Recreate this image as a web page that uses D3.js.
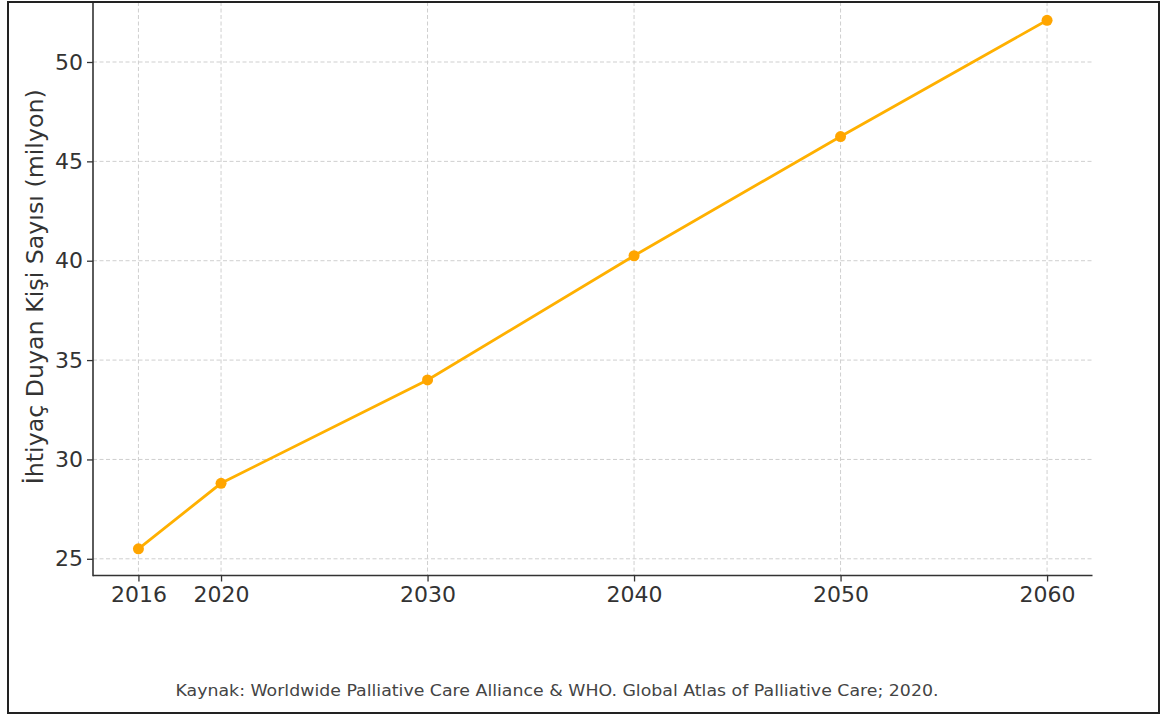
<!DOCTYPE html>
<html><head><meta charset="utf-8">
<script src="https://cdn.jsdelivr.net/npm/d3@7"></script>
<style>html,body{margin:0;padding:0;background:#fff;}svg{display:block;}</style>
</head><body>
<svg id="c" width="1162" height="716"></svg>
<script>
const years = [2016, 2020, 2030, 2040, 2050, 2060];
const values = [25.5, 28.8, 34.0, 40.25, 46.25, 52.1];
const yTicks = [25, 30, 35, 40, 45, 50];
const yLabel = "İhtiyaç Duyan Kişi Sayısı (milyon)";
const caption = "Kaynak: Worldwide Palliative Care Alliance & WHO. Global Atlas of Palliative Care; 2020.";

const svg = d3.select("#c");
const L = 93, R = 1092.5, B = 575.5, T = 2;
const x = d3.scaleLinear().domain([2013.8, 2062.2]).range([L, R]);
const y = d3.scaleLinear().domain([25, 50]).range([558.8, 62]);
const font = "DejaVu Sans, sans-serif";

// grid
const g = svg.append("g");
g.selectAll("line.vg").data(years).join("line")
  .attr("x1", d => x(d)).attr("x2", d => x(d)).attr("y1", T).attr("y2", B)
  .attr("stroke", "#cfcfcf").attr("stroke-width", 1).attr("stroke-dasharray", "4,2.5");
g.selectAll("line.hg").data(yTicks).join("line")
  .attr("x1", L).attr("x2", R).attr("y1", d => y(d)).attr("y2", d => y(d))
  .attr("stroke", "#cfcfcf").attr("stroke-width", 1).attr("stroke-dasharray", "4,2.5");

// axes
const xAxis = d3.axisBottom(x).tickValues(years).tickFormat(d3.format("d")).tickSize(6).tickSizeOuter(0).tickPadding(5);
const yAxis = d3.axisLeft(y).tickValues(yTicks).tickSize(6).tickSizeOuter(0).tickPadding(4);
const gx = svg.append("g").attr("transform", `translate(0,${B})`).call(xAxis);
const gy = svg.append("g").attr("transform", `translate(${L},0)`).call(yAxis);
[gx, gy].forEach(a => {
  a.select(".domain").remove();
  a.selectAll(".tick line").attr("stroke", "#333").attr("stroke-width", 1.3);
  a.selectAll(".tick text").attr("fill", "#333").style("font-family", font).style("font-size", "22px");
});
svg.append("line").attr("x1", L).attr("x2", L).attr("y1", T).attr("y2", B + 0.7)
  .attr("stroke", "#333").attr("stroke-width", 1.6);
svg.append("line").attr("x1", L).attr("x2", R).attr("y1", B).attr("y2", B)
  .attr("stroke", "#333").attr("stroke-width", 1.6);

// line and markers
const line = d3.line().x((d, i) => x(years[i])).y(d => y(d));
svg.append("path").datum(values).attr("d", line)
  .attr("fill", "none").attr("stroke", "#FFB000").attr("stroke-width", 2.8);
svg.selectAll("circle.pt").data(values).join("circle")
  .attr("cx", (d, i) => x(years[i])).attr("cy", d => y(d)).attr("r", 5.5)
  .attr("fill", "#FFA500");

// y label
svg.append("text").attr("transform", `translate(43,${(T + B) / 2 - 2}) rotate(-90)`)
  .attr("text-anchor", "middle").attr("fill", "#333")
  .style("font-family", font).style("font-size", "23px")
  .attr("textLength", 395).attr("lengthAdjust", "spacingAndGlyphs").text(yLabel);

// caption
svg.append("text").attr("x", 557).attr("y", 696).attr("text-anchor", "middle")
  .attr("fill", "#444").style("font-family", font).style("font-size", "16.5px")
  .attr("textLength", 763).attr("lengthAdjust", "spacingAndGlyphs").text(caption);

// frame
svg.append("rect").attr("x", 8).attr("y", 2).attr("width", 1151).attr("height", 711)
  .attr("fill", "none").attr("stroke", "#222").attr("stroke-width", 2);
</script>
</body></html>
